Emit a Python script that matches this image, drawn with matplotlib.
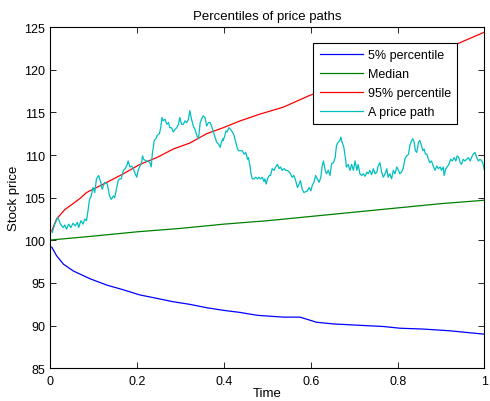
import numpy as np
import matplotlib
matplotlib.use("Agg")
from matplotlib import pyplot as plt

plt.rcParams['font.family'] = ['Liberation Sans', 'DejaVu Sans']

# percentile curves
p95_t = [0.003, 0.014, 0.033, 0.068, 0.083, 0.13, 0.168, 0.206, 0.245, 0.283, 0.321, 0.36,
         0.398, 0.437, 0.46, 0.483, 0.536, 0.598, 0.7, 0.8, 0.9, 0.936, 1.0]
p95 = [101.1, 102.5, 103.6, 104.9, 105.6, 106.8, 107.8, 108.9, 109.7, 110.7, 111.4, 112.5,
       113.2, 114.0, 114.4, 114.8, 115.6, 117.0, 118.8, 120.6, 122.4, 123.0, 124.4]

med_t = [0.003, 0.1, 0.2, 0.3, 0.4, 0.5, 0.6, 0.7, 0.8, 0.9, 1.0]
med = [100.05, 100.5, 101.0, 101.4, 101.9, 102.3, 102.8, 103.3, 103.8, 104.3, 104.7]

p5_t = [0.003, 0.014, 0.03, 0.053, 0.091, 0.13, 0.168, 0.206, 0.245, 0.283, 0.321, 0.36,
        0.398, 0.437, 0.46, 0.479, 0.536, 0.575, 0.613, 0.652, 0.69, 0.767, 0.805, 0.859,
        0.92, 1.0]
p5 = [99.2, 98.2, 97.2, 96.4, 95.5, 94.75, 94.2, 93.6, 93.2, 92.8, 92.5, 92.1,
      91.8, 91.55, 91.35, 91.2, 91.0, 91.0, 90.4, 90.2, 90.1, 89.9, 89.7, 89.6,
      89.4, 89.0]

# one sample path
path_t = [0.004, 0.01, 0.017, 0.023, 0.029, 0.033, 0.037, 0.042, 0.047, 0.052, 0.057, 0.062,
          0.065, 0.07, 0.075, 0.079, 0.083, 0.086, 0.09, 0.094, 0.098, 0.102, 0.106, 0.111,
          0.116, 0.119, 0.125, 0.131, 0.136, 0.14, 0.145, 0.148, 0.152, 0.156, 0.159, 0.163,
          0.168, 0.172, 0.177, 0.179, 0.183, 0.187, 0.191, 0.195, 0.199, 0.202, 0.206, 0.21,
          0.212, 0.215, 0.22, 0.225, 0.229, 0.232, 0.235, 0.237, 0.239, 0.243, 0.246, 0.251,
          0.254, 0.257, 0.26, 0.264, 0.268, 0.272, 0.275, 0.279, 0.283, 0.287, 0.291, 0.295,
          0.298, 0.302, 0.306, 0.31, 0.314, 0.318, 0.321, 0.325, 0.329, 0.333, 0.337, 0.341,
          0.345, 0.348, 0.352, 0.356, 0.36, 0.364, 0.368, 0.371, 0.375, 0.379, 0.383, 0.387,
          0.391, 0.394, 0.397, 0.398, 0.402, 0.404, 0.407, 0.411, 0.415, 0.419, 0.423, 0.427,
          0.431, 0.434, 0.438, 0.442, 0.446, 0.45, 0.454, 0.456, 0.46, 0.462, 0.465, 0.469,
          0.473, 0.477, 0.48, 0.484, 0.488, 0.492, 0.494, 0.497, 0.5, 0.504, 0.507, 0.511,
          0.515, 0.519, 0.523, 0.527, 0.53, 0.534, 0.538, 0.542, 0.546, 0.55, 0.553, 0.557,
          0.561, 0.565, 0.569, 0.573, 0.576, 0.58, 0.584, 0.588, 0.592, 0.596, 0.6, 0.603,
          0.607, 0.611, 0.615, 0.619, 0.623, 0.626, 0.629, 0.633, 0.636, 0.64, 0.644, 0.648,
          0.652, 0.656, 0.659, 0.663, 0.667, 0.669, 0.672, 0.676, 0.68, 0.682, 0.686, 0.69,
          0.694, 0.698, 0.702, 0.706, 0.709, 0.713, 0.717, 0.721, 0.725, 0.729, 0.732, 0.736,
          0.74, 0.744, 0.748, 0.752, 0.755, 0.759, 0.763, 0.767, 0.771, 0.775, 0.778, 0.782,
          0.786, 0.79, 0.794, 0.798, 0.802, 0.805, 0.809, 0.813, 0.817, 0.821, 0.825, 0.828,
          0.832, 0.835, 0.838, 0.841, 0.844, 0.848, 0.851, 0.855, 0.858, 0.861, 0.864, 0.867,
          0.871, 0.874, 0.878, 0.882, 0.886, 0.89, 0.894, 0.898, 0.901, 0.905, 0.907, 0.911,
          0.914, 0.918, 0.922, 0.926, 0.93, 0.934, 0.937, 0.941, 0.944, 0.947, 0.951, 0.955,
          0.959, 0.963, 0.967, 0.97, 0.974, 0.978, 0.982, 0.986, 0.99, 0.994, 0.997, 1.0]
path = [100.9, 101.9, 102.7, 101.9, 101.5, 101.8, 101.3, 101.9, 101.5, 102.0, 101.7, 102.1,
        101.5, 102.3, 101.9, 102.5, 102.3, 103.3, 104.8, 105.2, 106.2, 105.6, 107.2, 107.6,
        106.8, 106.0, 106.8, 106.6, 105.2, 104.8, 105.2, 105.0, 106.0, 107.0, 107.2, 107.2,
        108.2, 108.4, 108.9, 109.3, 108.6, 108.7, 108.4, 107.8, 107.4, 108.2, 108.7, 109.1,
        109.9, 109.5, 109.3, 109.3, 109.1, 108.6, 110.3, 110.9, 111.7, 111.9, 112.3, 112.5,
        113.2, 114.4, 114.0, 114.2, 113.6, 113.8, 113.2, 113.2, 112.7, 113.0, 113.2, 113.6,
        114.4, 113.6, 113.6, 114.0, 113.8, 114.2, 115.2, 114.2, 113.4, 113.0, 112.3, 111.9,
        113.8, 114.2, 114.6, 114.4, 113.4, 113.8, 113.8, 113.4, 112.8, 112.1, 111.5, 111.3,
        110.9, 111.5, 111.9, 111.7, 112.3, 112.8, 112.7, 113.2, 113.0, 112.7, 112.3, 111.5,
        110.7, 110.5, 110.5, 110.5, 110.1, 110.3, 109.5, 109.7, 108.7, 107.8, 107.2, 107.2,
        107.4, 107.2, 107.4, 107.2, 107.4, 106.9, 107.2, 106.6, 107.2, 107.6, 107.6, 108.4,
        108.2, 108.6, 108.9, 108.4, 108.6, 108.2, 108.4, 108.2, 108.2, 108.0, 107.8, 107.4,
        107.6, 107.0, 106.2, 106.6, 107.0, 106.0, 105.6, 105.7, 105.8, 106.2, 105.8, 106.4,
        106.8, 107.6, 107.2, 106.8, 107.4, 108.7, 109.3, 108.2, 107.8, 108.2, 107.6, 109.0,
        109.1, 109.7, 111.1, 111.5, 111.7, 112.1, 111.5, 110.9, 109.5, 108.6, 108.9, 108.2,
        108.9, 108.2, 109.3, 108.2, 108.9, 107.8, 107.6, 107.8, 107.5, 108.0, 107.8, 108.2,
        107.7, 108.4, 107.8, 108.0, 108.7, 109.1, 108.0, 107.4, 107.8, 108.4, 107.4, 107.8,
        107.2, 108.2, 107.8, 108.6, 108.2, 107.8, 108.0, 108.5, 109.6, 109.9, 110.1, 111.1,
        111.7, 111.9, 111.5, 110.5, 110.3, 111.5, 111.7, 111.1, 110.5, 110.7, 110.1, 110.1,
        109.5, 109.1, 109.3, 108.7, 108.2, 108.7, 108.4, 108.6, 108.2, 108.6, 107.6, 108.4,
        108.6, 108.9, 109.5, 109.3, 109.7, 109.3, 109.9, 109.7, 109.1, 108.9, 109.5, 109.3,
        109.5, 109.7, 109.3, 109.7, 110.1, 110.3, 109.7, 109.3, 109.5, 109.3, 108.9, 108.2]

xticks = [0, 0.2, 0.4, 0.6, 0.8, 1]
xtick_labels = ['0', '0.2', '0.4', '0.6', '0.8', '1']
yticks = [85, 90, 95, 100, 105, 110, 115, 120, 125]

fig = plt.figure(figsize=(4.9, 4.02), dpi=100)
ax = fig.add_axes([0.103, 0.0813, 0.8857, 0.849])

ax.plot(p5_t, p5, color='#0000ff', lw=0.9, label='5% percentile')
ax.plot(med_t, med, color='#008000', lw=0.9, label='Median')
ax.plot(p95_t, p95, color='#ff0000', lw=0.9, label='95% percentile')
ax.plot(path_t, path, color='#00bfbf', lw=0.9, label='A price path')

ax.set_xlim(0, 1)
ax.set_ylim(85, 125)
ax.set_xticks(xticks)
ax.set_xticklabels(xtick_labels)
ax.set_yticks(yticks)
ax.tick_params(direction='in', top=True, right=True, length=4, width=0.6,
               labelsize=9)
ax.tick_params(axis='x', pad=5)
ax.tick_params(axis='y', pad=4)
for s in ax.spines.values():
    s.set_linewidth(0.8)

ax.set_title('Percentiles of price paths', fontsize=9.5, pad=6)
ax.set_xlabel('Time', fontsize=9.5, labelpad=0)
ax.set_ylabel('Stock price', fontsize=9.5, labelpad=3)

leg = ax.legend(loc='upper right', bbox_to_anchor=(0.937, 0.953), borderaxespad=0,
                fancybox=False, framealpha=1, edgecolor='black', fontsize=9,
                handlelength=3.5, handletextpad=0.35, labelspacing=0.55,
                borderpad=0.5)
leg.get_frame().set_linewidth(0.8)

fig.savefig('out.png', dpi=100)
